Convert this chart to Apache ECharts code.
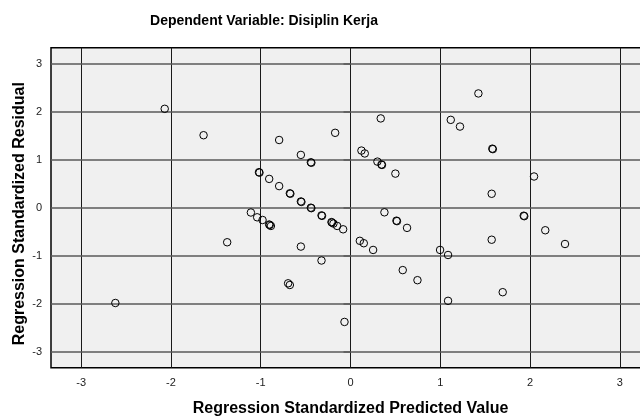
<!DOCTYPE html>
<html>
<head>
<meta charset="utf-8">
<script src="https://cdn.jsdelivr.net/npm/echarts@6/dist/echarts.min.js"></script>
<style>
  html, body { margin: 0; padding: 0; background: #fff; overflow: hidden; }
  /* plot runs past the right edge of the picture, as in the reference */
  #chart { width: 650px; height: 419px; }
</style>
</head>
<body>
<div id="chart"></div>
<script>
// standardized predicted value (x) and standardized residual (y)
const predicted = [
  -2.62, -2.07, -1.637, -1.374, -1.11, -1.04, -0.98, -0.906, -0.900, -0.887,
  -1.02, -1.014, -0.906, -0.795, -0.795, -0.676, -0.670, -0.553, -0.442, -0.436,
  -0.553, -0.547, -0.442, -0.436, -0.323, -0.317, -0.212, -0.206, -0.19, -0.149,
  -0.082, -0.171, -0.553, -0.323, -0.695, -0.676, -0.067, 0.122, 0.159, 0.337,
  0.30, 0.345, 0.351, 0.50, 0.104, 0.148, 0.252, 0.378, 0.512, 0.518,
  0.63, 0.582, 0.746, 0.998, 1.087, 1.087, 1.117, 1.22, 1.425, 1.58,
  1.586, 1.573, 2.045, 1.93, 1.936, 2.17, 2.39, 1.573, 1.696
];
const residual = [
  -1.985, 2.06, 1.51, -0.72, -0.10, -0.20, -0.256, -0.35, -0.36, -0.38,
  0.74, 0.73, 0.60, 1.41, 0.45, 0.30, 0.29, 1.10, 0.946, 0.936,
  0.13, 0.12, 0.0, -0.01, -0.16, -0.17, -0.30, -0.31, -0.33, -0.38,
  -0.45, 1.56, -0.81, -1.10, -1.575, -1.61, -2.38, 1.19, 1.13, 1.86,
  0.96, 0.90, 0.89, 0.71, -0.69, -0.74, -0.88, -0.096, -0.27, -0.28,
  -0.42, -1.30, -1.51, -0.88, -0.985, -1.94, 1.83, 1.69, 2.38, 1.23,
  1.22, 0.29, 0.65, -0.167, -0.177, -0.47, -0.756, -0.667, -1.76
];
const xTicks = [-3, -2, -1, 0, 1, 2, 3];
const yTicks = [-3, -2, -1, 0, 1, 2, 3];

const points = predicted.map((v, i) => [v, residual[i]]);
const font = 'Liberation Sans, Arial, sans-serif';

const chart = echarts.init(document.getElementById('chart'), null, { renderer: 'canvas' });
chart.setOption({
  animation: false,
  title: {
    text: 'Dependent Variable: Disiplin Kerja',
    left: 259, top: 9, textAlign: 'center',
    textStyle: { fontFamily: font, fontWeight: 'bold', fontSize: 14, color: '#000' }
  },
  grid: {
    left: 51, right: 0, top: 47.7, bottom: 51.3,
    outerBoundsMode: 'none', containLabel: false,
    show: true, backgroundColor: '#f0f0f0', borderColor: '#000', borderWidth: 1.5
  },
  xAxis: {
    type: 'value', min: -3.337, max: 3.337,
    name: 'Regression Standardized Predicted Value',
    nameLocation: 'middle', nameGap: 33, nameMoveOverlap: false,
    nameTextStyle: { fontFamily: font, fontWeight: 'bold', fontSize: 16, color: '#000' },
    axisLine: { show: false },
    splitLine: { show: false },
    axisTick: { show: true, customValues: xTicks, length: 7, lineStyle: { color: '#1a1a1a' } },
    axisLabel: { customValues: xTicks, fontFamily: font, fontSize: 11, color: '#222', margin: 10 }
  },
  yAxis: {
    type: 'value', min: -3.333, max: 3.333,
    name: 'Regression Standardized Residual',
    nameLocation: 'middle', nameGap: 23, nameMoveOverlap: false,
    nameTextStyle: { fontFamily: font, fontWeight: 'bold', fontSize: 16, color: '#000', padding: [0, 12, 0, 0] },
    axisLine: { show: false },
    splitLine: { show: false },
    axisTick: { show: true, customValues: yTicks, length: 7, lineStyle: { color: '#5a5a5a', width: 1.5 } },
    axisLabel: { customValues: yTicks, fontFamily: font, fontSize: 11, color: '#222', margin: 9 }
  },
  series: [
    {
      type: 'scatter',
      data: points,
      symbol: 'circle',
      symbolSize: 7.5,
      itemStyle: { color: 'rgba(0,0,0,0)', borderColor: '#000', borderWidth: 1, opacity: 1 },
      z: 5,
      markLine: {
        silent: true, symbol: 'none', label: { show: false }, animation: false,
        data: xTicks.map(v => ({ xAxis: v, lineStyle: { color: '#1a1a1a', width: 1, type: 'solid' } }))
          .concat(yTicks.map(v => ({ yAxis: v, lineStyle: { color: '#5a5a5a', width: 1.5, type: 'solid' } })))
      }
    }
  ]
});
</script>
</body>
</html>
